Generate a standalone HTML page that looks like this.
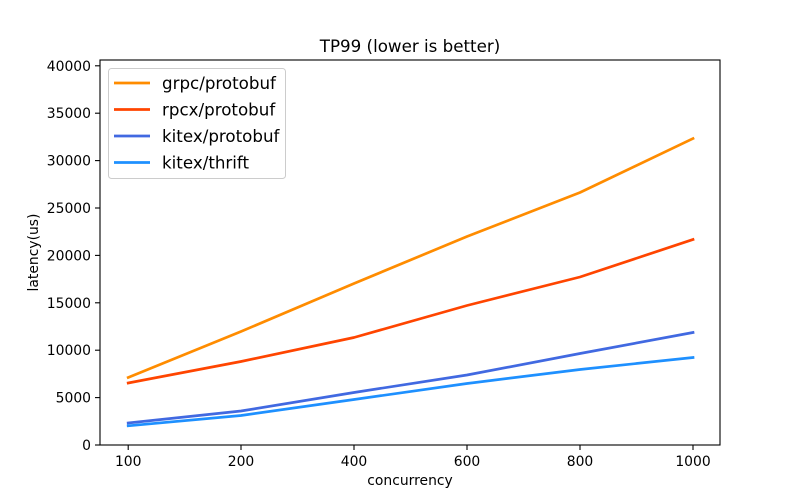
<!DOCTYPE html>
<html><head><meta charset="utf-8"><style>
html,body{margin:0;padding:0;background:#fff;}
svg{display:block;font-family:"DejaVu Sans","Liberation Sans",sans-serif;}
</style></head><body>
<svg width="800" height="500" viewBox="0 0 800 500" xmlns="http://www.w3.org/2000/svg">
<rect width="800" height="500" fill="#fff"/>
<!-- series -->
<g fill="none" stroke-width="2.7" stroke-linejoin="round" stroke-linecap="square">
<polyline stroke="#FF8C00" points="128.2,377.5 241,331.5 354,283.5 467,236.5 580,192.5 693,138.5"/>
<polyline stroke="#FF4500" points="128.2,383 241,361.5 354,337.5 467,305.5 580,277 693,239.5"/>
<polyline stroke="#4169E1" points="128.2,423 241,411 354,392.5 467,375 580,353.5 693,332.5"/>
<polyline stroke="#1E90FF" points="128.2,425.8 241,415.5 354,399.5 467,383.5 580,369.5 693,357.5"/>
</g>
<!-- axes frame -->
<rect x="100" y="60" width="620" height="385" fill="none" stroke="#000" stroke-width="1.1"/>
<!-- ticks -->
<g stroke="#000" stroke-width="1.1">
<line x1="95" y1="445" x2="100" y2="445"/>
<line x1="95" y1="397.6" x2="100" y2="397.6"/>
<line x1="95" y1="350.2" x2="100" y2="350.2"/>
<line x1="95" y1="302.8" x2="100" y2="302.8"/>
<line x1="95" y1="255.4" x2="100" y2="255.4"/>
<line x1="95" y1="208" x2="100" y2="208"/>
<line x1="95" y1="160.6" x2="100" y2="160.6"/>
<line x1="95" y1="113.2" x2="100" y2="113.2"/>
<line x1="95" y1="65.8" x2="100" y2="65.8"/>
<line x1="128.2" y1="445" x2="128.2" y2="450"/>
<line x1="241" y1="445" x2="241" y2="450"/>
<line x1="354" y1="445" x2="354" y2="450"/>
<line x1="467" y1="445" x2="467" y2="450"/>
<line x1="580" y1="445" x2="580" y2="450"/>
<line x1="693" y1="445" x2="693" y2="450"/>
</g>
<g font-size="13.9" fill="#000" text-anchor="end">
<text x="91" y="450">0</text>
<text x="91" y="402.6">5000</text>
<text x="91" y="355.2">10000</text>
<text x="91" y="307.8">15000</text>
<text x="91" y="260.4">20000</text>
<text x="91" y="213">25000</text>
<text x="91" y="165.6">30000</text>
<text x="91" y="118.2">35000</text>
<text x="91" y="70.8">40000</text>
</g>
<g font-size="13.9" fill="#000" text-anchor="middle">
<text x="128.2" y="466">100</text>
<text x="241" y="466">200</text>
<text x="354" y="466">400</text>
<text x="467" y="466">600</text>
<text x="580" y="466">800</text>
<text x="693" y="466">1000</text>
<text x="410" y="485">concurrency</text>
<text transform="translate(38,252.5) rotate(-90)">latency(us)</text>
<text x="410" y="52" font-size="16.7">TP99 (lower is better)</text>
</g>
<!-- legend -->
<rect x="108.5" y="68.5" width="177" height="110" rx="3" fill="#fff" fill-opacity="0.8" stroke="#ccc" stroke-width="1"/>
<g stroke-width="2.7">
<line x1="114" y1="83" x2="150" y2="83" stroke="#FF8C00"/>
<line x1="114" y1="109.5" x2="150" y2="109.5" stroke="#FF4500"/>
<line x1="114" y1="136" x2="150" y2="136" stroke="#4169E1"/>
<line x1="114" y1="162.5" x2="150" y2="162.5" stroke="#1E90FF"/>
</g>
<g font-size="16.7" fill="#000">
<text x="162" y="89">grpc/protobuf</text>
<text x="162" y="115.5">rpcx/protobuf</text>
<text x="162" y="142">kitex/protobuf</text>
<text x="162" y="168.5">kitex/thrift</text>
</g>
</svg>
</body></html>
